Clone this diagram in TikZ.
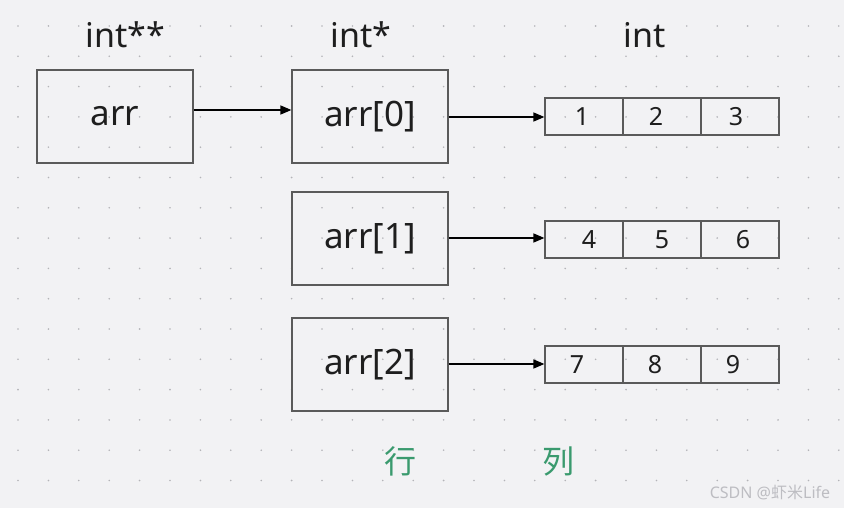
\documentclass[tikz,border=0pt]{standalone}
\usepackage{fontspec}
\setmainfont{Noto Sans}
\newfontfamily\cjk{Noto Sans CJK SC}
\usetikzlibrary{arrows.meta}
\definecolor{bgc}{HTML}{F2F2F4}
\definecolor{dotc}{HTML}{B4B4B8}
\definecolor{boxc}{HTML}{5A5A5A}
\definecolor{txtc}{HTML}{1E1E1E}
\definecolor{grn}{HTML}{3A9A6E}
\definecolor{wmc}{HTML}{BDBDC2}
\tikzset{
  ptrbox/.style={draw=boxc, line width=1.2pt, minimum width=156pt, minimum height=93pt, inner sep=0pt, text=txtc, font=\fontsize{35}{40}\selectfont},
  cell/.style={draw=boxc, line width=1.2pt, minimum width=78pt, minimum height=37pt, inner sep=0pt, text=txtc, font=\fontsize{25}{28}\selectfont},
  typelbl/.style={text=txtc, font=\fontsize{34}{40}\selectfont, inner sep=0pt},
  conn/.style={line width=1.4pt, black, -{Triangle[length=11pt,width=9pt]}},
  cjklbl/.style={text=grn, font=\cjk\fontsize{32}{36}\selectfont, inner sep=0pt}
}
\begin{document}
\begin{tikzpicture}[x=1pt,y=-1pt]
\useasboundingbox (0,0) rectangle (844,508);
\fill[bgc] (0,0) rectangle (844,508);
\foreach \i in {0,...,27} {
  \foreach \j in {0,...,16} {
    \fill[dotc] ({18+30.4*\i},{26+30.3*\j}) circle (0.9pt);
  }
}
% type labels
\node[typelbl] (t2) at (125,35) {int**};
\node[typelbl] (t1) at (361,35) {int*};
\node[typelbl] (t0) at (645,35) {int};
% pointer boxes
\node[ptrbox] (arr) at (115,116.5) {arr};
\node[ptrbox] (a0) at (370,116.5) {arr[0]};
\node[ptrbox] (a1) at (370,238.5) {arr[1]};
\node[ptrbox] (a2) at (370,364.5) {arr[2]};
% arrays
\node[cell] (c11) at (584,116.5) {1\hspace*{4pt}};
\node[cell] (c12) at (662,116.5) {2\hspace*{12pt}};
\node[cell] (c13) at (740,116.5) {3\hspace*{8pt}};
\node[cell] (c21) at (584,239.5) {\hspace*{10pt}4};
\node[cell] (c22) at (662,239.5) {5};
\node[cell] (c23) at (740,239.5) {\hspace*{6pt}6};
\node[cell] (c31) at (584,364.5) {7\hspace*{14pt}};
\node[cell] (c32) at (662,364.5) {8\hspace*{14pt}};
\node[cell] (c33) at (740,364.5) {9\hspace*{14pt}};
% connectors
\draw[conn] (arr.east |- 0,110) -- (a0.west |- 0,110);
\draw[conn] (a0.east |- 0,117) -- (c11.west |- 0,117);
\draw[conn] (a1.east |- 0,238) -- (c21.west |- 0,238);
\draw[conn] (a2.east |- 0,364) -- (c31.west |- 0,364);
% row / column labels
\node[cjklbl] (row) at (400,461) {行};
\node[cjklbl] (col) at (558,461) {列};
% watermark
\node[text=wmc, font=\fontsize{16}{18}\selectfont, inner sep=0pt] (wm) at (770,492) {CSDN @{\cjk 虾米}Life};
\end{tikzpicture}
\end{document}
